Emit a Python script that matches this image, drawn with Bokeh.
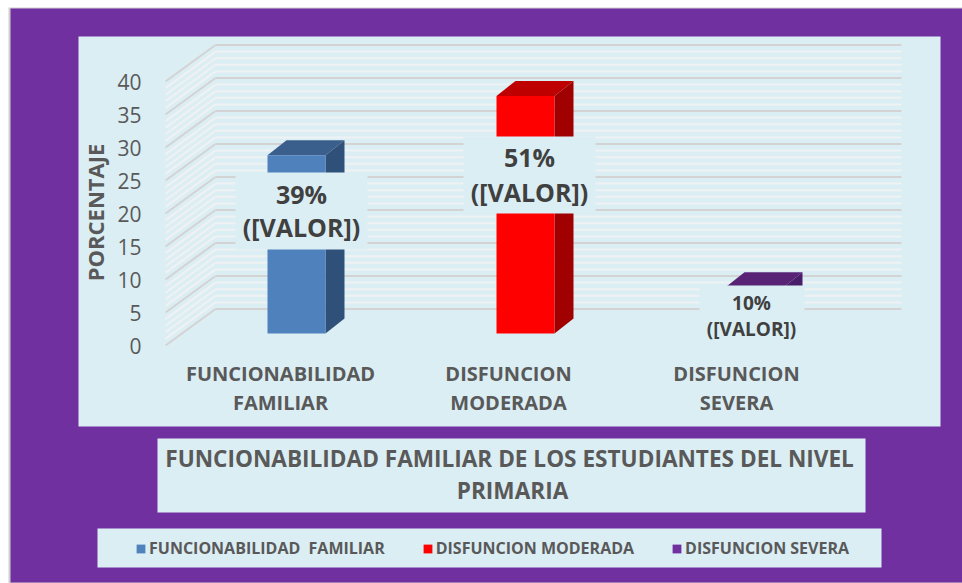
from bokeh.plotting import figure
from bokeh.models import FixedTicker, Legend, LegendItem, LinearAxis, Range1d
from bokeh.core.properties import value
from bokeh.embed import file_html
from bokeh.resources import INLINE

categories = ["FUNCIONABILIDAD\nFAMILIAR", "DISFUNCION\nMODERADA", "DISFUNCION\nSEVERA"]
legend_names = ["FUNCIONABILIDAD  FAMILIAR", "DISFUNCION MODERADA", "DISFUNCION SEVERA"]
values = [27, 36, 7]
pct_labels = ["39%", "51%", "10%"]
y_ticks = [0, 5, 10, 15, 20, 25, 30, 35, 40]
minor_ticks = [v for v in range(0, 41) if v % 5]
title_text = "FUNCIONABILIDAD FAMILIAR  DE LOS ESTUDIANTES DEL NIVEL\nPRIMARIA"

front = ["#4F81BD", "#FF0000", "#7030A0"]
top_c = ["#3B5F8D", "#BF0000", "#582377"]
side = ["#2F5078", "#A00000", "#4A1D6A"]
PANEL = "#DBEEF4"
PURPLE = "#7030A0"
TXT = "#595959"
FONT = "Open Sans"

W, H = 962, 583
PY = 6.6   # px per value unit
PX = 229.0 # px per category
X0, Y0 = 296.0, 345.0  # pixel of category 0 / value 0
def dx(px): return (px - X0) / PX
def dy(py): return (Y0 - py) / PY

p = figure(width=W, height=H, output_backend="svg", toolbar_location=None,
           x_range=Range1d(dx(0), dx(W)), y_range=Range1d(dy(H), dy(0)),
           min_border=0, min_border_left=0, min_border_right=0, min_border_top=0, min_border_bottom=0,
           x_axis_type=None, y_axis_type=None, outline_line_color=None,
           background_fill_color="#FFFFFF", border_fill_color="#FFFFFF")
p.grid.visible = False

def panel(l, t, r, b, color=PANEL):
    p.quad(left=[dx(l)], right=[dx(r)], top=[dy(t)], bottom=[dy(b)], fill_color=color, line_color=None)

panel(8, 7, 962, 583, "#D0D0D0")
panel(10, 8, 962, 582, PURPLE)
panel(78, 36, 940, 426)
panel(157, 438, 865, 512)
panel(97, 528, 881, 567)

# wall: floor-to-back diagonal and back wall lines
WALL_DX = 50 / PX
WALL_DY = 36.5 / PY
x_left = dx(165)
x_right = dx(901)
for ticks, color, lw in [(minor_ticks, "#F0F1F3", 2), (y_ticks, "#D4D3D3", 2)]:
    xa = [x_left] * len(ticks)
    xb = [x_left + WALL_DX] * len(ticks)
    ya = list(ticks)
    yb = [t + WALL_DY for t in ticks]
    p.segment(xa, ya, xb, yb, line_color=color, line_width=lw)
    p.segment(xb, yb, [x_right] * len(ticks), yb, line_color=color, line_width=lw)

# 3D bars
BW = 58 / PX
DX = 19 / PX
DY = 15 / PY
BASE = (345 - 333) / PY
items = []
for i, v in enumerate(values):
    x0 = i - BW / 2
    x1 = x0 + BW
    top = BASE + v
    p.patch([x0, x1, x1 + DX, x0 + DX], [top, top, top + DY, top + DY], fill_color=top_c[i], line_color=None)
    p.patch([x1, x1 + DX, x1 + DX, x1], [BASE, BASE + DY, top + DY, top], fill_color=side[i], line_color=None)
    r = p.quad(left=[x0], right=[x1], bottom=[BASE], top=[top], fill_color=front[i], line_color=None)
    items.append(LegendItem(label=legend_names[i], renderers=[r]))

ax = LinearAxis(fixed_location=dx(150), ticker=FixedTicker(ticks=y_ticks), axis_line_color=None,
                major_tick_line_color=None, minor_tick_line_color=None,
                major_label_text_font=FONT, major_label_text_font_size="21px",
                major_label_text_color=TXT, major_label_standoff=3)
p.add_layout(ax, "left")

# data labels
boxes = [(235, 172, 367, 249), (463, 136, 595, 213), (699, 285, 804, 347)]
pos = [(301, 193, 226, "25px"), (529, 156, 191, "25px"), (751, 302, 328, "19px")]
for i, (l, t, r, b) in enumerate(boxes):
    p.quad(left=[dx(l)], right=[dx(r)], bottom=[dy(b)], top=[dy(t)], fill_color=PANEL, line_color=None)
    xc, y1, y2, fs = pos[i]
    p.text([dx(xc)], [dy(y1)], text=[pct_labels[i]], text_font=value(FONT), text_font_style="bold",
           text_font_size=fs, text_color="#404040", text_align="center", text_baseline="middle")
    p.text([dx(xc)], [dy(y2)], text=["([VALOR])"], text_font=value(FONT), text_font_style="bold",
           text_font_size=fs, text_color="#404040", text_align="center", text_baseline="middle")

# category labels
cat_x = [280, 508, 736]
for i, c in enumerate(categories):
    a, b = c.split("\n")
    for txt, y in [(a, 373), (b, 402)]:
        p.text([dx(cat_x[i])], [dy(y)], text=[txt], text_font=value(FONT), text_font_style="bold",
               text_font_size="20px", text_color=TXT, text_align="center", text_baseline="middle")

p.text([dx(94)], [dy(212)], text=["PORCENTAJE"], angle=90, angle_units="deg", text_font=value(FONT),
       text_font_style="bold", text_font_size="22px", text_color=TXT, text_align="center", text_baseline="middle")

t1, t2 = title_text.split("\n")
for txt, y in [(t1, 458), (t2, 490)]:
    p.text([dx(512)], [dy(y)], text=[txt], text_font=value(FONT), text_font_style="bold",
           text_font_size="22.6px", text_color=TXT, text_align="center", text_baseline="middle")

leg = Legend(items=items, orientation="horizontal", location=(135, H - 559),
             background_fill_alpha=0, border_line_color=None, label_text_font=FONT,
             label_text_font_style="bold", label_text_font_size="16px", label_text_color=TXT,
             glyph_width=11, glyph_height=11, label_standoff=3, spacing=37, padding=0, margin=0)
p.add_layout(leg)

open("out.html", "w").write(file_html(p, INLINE))
